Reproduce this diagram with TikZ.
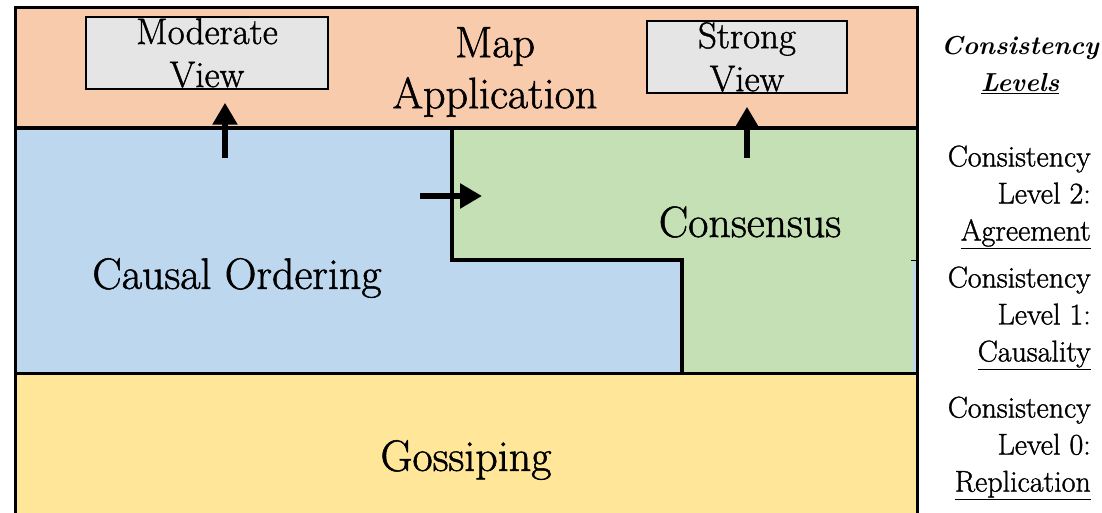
\documentclass[tikz,border=0pt]{standalone}
\usepackage{fontspec}
\setmainfont{Latin Modern Roman}[UprightFeatures={FakeBold=1.2}]
\usetikzlibrary{arrows.meta,positioning,calc}

\definecolor{peach}{HTML}{F8CBAD}
\definecolor{skyblue}{HTML}{BDD7EE}
\definecolor{leaf}{HTML}{C5E0B4}
\definecolor{sand}{HTML}{FFE699}
\definecolor{boxgray}{HTML}{E5E5E5}

\begin{document}
\begin{tikzpicture}
[   x=1pt, y=-1pt,
    lbl/.style={font=\fontsize{44}{51}\selectfont, align=center, inner sep=0},
    viewbox/.style={draw=black, line width=1.5pt, fill=boxgray, minimum width=#1, minimum height=72pt, inner sep=0, font=\fontsize{37}{43}\selectfont, align=center},
    lvl/.style={font=\fontsize{30}{37}\selectfont, align=right, inner sep=0, anchor=east},
    fatarrow/.style={line width=6pt, -{Triangle[width=24pt,length=22pt]}}, ]
    \useasboundingbox (0,0) rectangle (1102,513);
    \clip (0,0) rectangle (1102,513);

    % layers
    \fill[peach] (15,8) rectangle (917,128);
    \fill[skyblue] (15,128) rectangle (917,373);
    \fill[leaf] (452,128) -- (917,128) -- (917,260) -- (913,260) -- (913,373) -- (682,373) -- (682,260) -- (452,260) -- cycle;
    \fill[sand] (15,374) rectangle (917,530);

    \draw[line width=3.5pt] (452,128) -- (452,260) -- (682,260) -- (682,374);
    \draw[line width=4pt] (15,128) -- (917,128);
    \draw[line width=3pt] (15,373) -- (917,373);
    \draw[line width=1pt] (911,260) -- (917,260);
    \draw[line width=3pt] (15,530) |- (917,8) -- (917,530);

    \node[lbl] (map) at (495,72) {Map\\Application};
    \node[lbl] (causal) at (237,278) {Causal Ordering};
    \node[lbl] (cons) at (750,222) {Consensus};
    \node[lbl] (goss) at (466,460) {Gossiping};

    \node[viewbox=242pt] (mod) at (207,53) {Moderate\\View};
    \node[viewbox=200pt] (str) at (747,57) {Strong\\View};

    \foreach \b/\x in {mod/225,str/747}
    {   \coordinate (\b-foot) at (\x,158);
        \draw[fatarrow, shorten >=13pt] (\b-foot) -- (\b-foot |- \b.south);
    }

    \coordinate (hstart) at (420,196);
    \coordinate (hend) at (482,196);
    \draw[fatarrow] (hstart) -- (hend);

    % level legend
    \node[font=\fontsize{26}{37}\selectfont\bfseries\itshape, align=center, inner sep=0] (title) at (1020,65) {Consistency\\\underline{Levels}};
    \foreach \n/\y/\w in {2/197/Agreement,1/318/Causality,0/448/Replication}
    {
        \node[lvl] (lvl-\n) at (1091,\y) {Consistency\\Level \n:\\\underline{\w}};
    }

\end{tikzpicture}
\end{document}
